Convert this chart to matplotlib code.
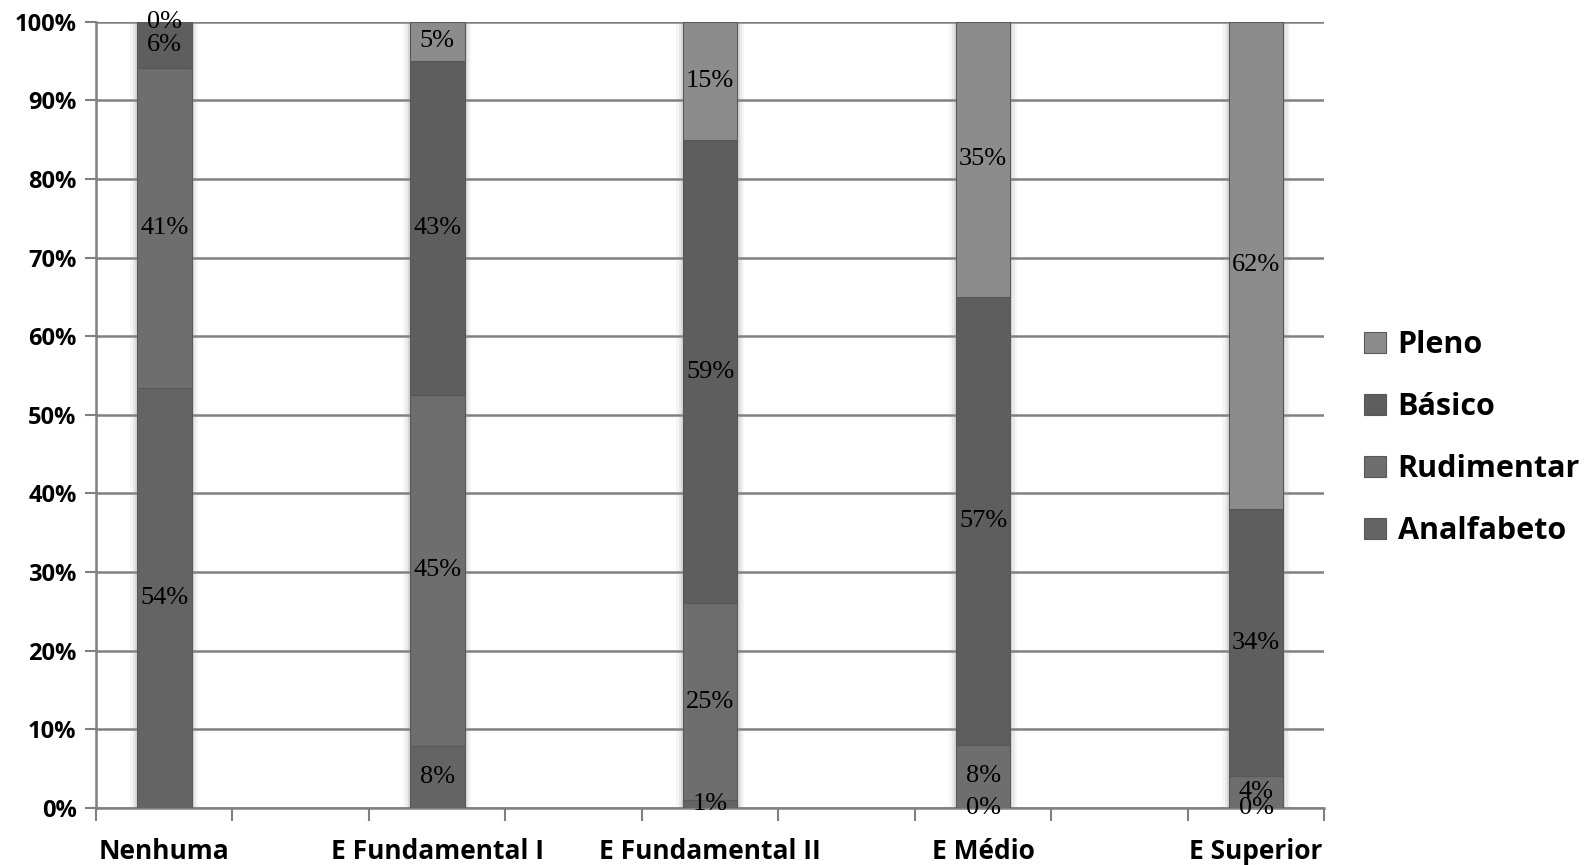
import numpy as np
import matplotlib.pyplot as plt
from matplotlib.ticker import PercentFormatter

categories = ["Nenhuma", "E Fundamental I", "E Fundamental II", "E Médio", "E Superior"]
series = ["Analfabeto", "Rudimentar", "Básico", "Pleno"]
analfabeto = [54, 8, 1, 0, 0]
rudimentar = [41, 45, 25, 8, 4]
basico = [6, 43, 59, 57, 34]
pleno = [0, 5, 15, 35, 62]
colors = ["#646464", "#6e6e6e", "#5e5e5e", "#8c8c8c"]

values = np.array([analfabeto, rudimentar, basico, pleno], dtype=float)
shares = values / values.sum(axis=0)  # 100% stacked

fig = plt.figure(figsize=(15.87, 8.65), dpi=100)
ax = fig.add_axes([0.0605, 0.066, 0.774, 0.909])

x = np.arange(len(categories))
width = 0.2

# soft glow around the bars
for extra, alpha in [(0.05, 0.08), (0.03, 0.12), (0.015, 0.18)]:
    ax.bar(x, shares.sum(axis=0), width + extra, color="#909090", alpha=alpha,
           linewidth=0, zorder=2)

bottom = np.zeros(len(categories))
bars = []
for name, share, val, col in zip(series, shares, values, colors):
    b = ax.bar(x, share, width, bottom=bottom, color=col, edgecolor="#585858",
               linewidth=0.8, label=name, zorder=3)
    bars.append(b)
    for xi, b0, s, v in zip(x, bottom, share, val):
        ax.text(xi, b0 + s / 2, f"{v:.0f}%", ha="center", va="center",
                fontsize=19, family="Liberation Serif", color="black", zorder=5)
    bottom = bottom + share

ax.set_xlim(-0.25, 4.25)
ax.set_ylim(0, 1)
ax.set_xticks(np.arange(-0.25, 4.26, 0.5))
ax.set_xticklabels([])
ax.set_xticks(x, minor=True)
ax.set_xticklabels(categories, minor=True, fontsize=19, fontweight="bold",
                   family="Open Sans")
ax.tick_params(axis="x", which="minor", length=0, pad=22)
ax.tick_params(axis="x", which="major", length=9, width=1.5, color="#808080",
               direction="out")
ax.set_yticks(np.arange(0, 1.01, 0.1))
ax.yaxis.set_major_formatter(PercentFormatter(1.0, decimals=0))
ax.tick_params(axis="y", length=8, width=1.5, color="#808080", labelsize=17, pad=6)
for lab in ax.get_yticklabels():
    lab.set_fontweight("bold")
    lab.set_family("Open Sans")

ax.grid(axis="y", color="#808080", linewidth=1.8, zorder=0)
ax.set_axisbelow(True)
for side in ["top", "right"]:
    ax.spines[side].set_visible(False)
for side in ["left", "bottom"]:
    ax.spines[side].set_color("#808080")
    ax.spines[side].set_linewidth(1.8)

handles = [bars[3], bars[2], bars[1], bars[0]]
labels = ["Pleno", "Básico", "Rudimentar", "Analfabeto"]
leg = ax.legend(handles, labels, loc="center left", bbox_to_anchor=(1.01, 0.47),
                frameon=False, handlelength=0.7, handleheight=0.7,
                handletextpad=0.4, labelspacing=1.05,
                prop={"family": "Open Sans", "weight": "bold", "size": 22})

fig.savefig("out.png", dpi=100)
